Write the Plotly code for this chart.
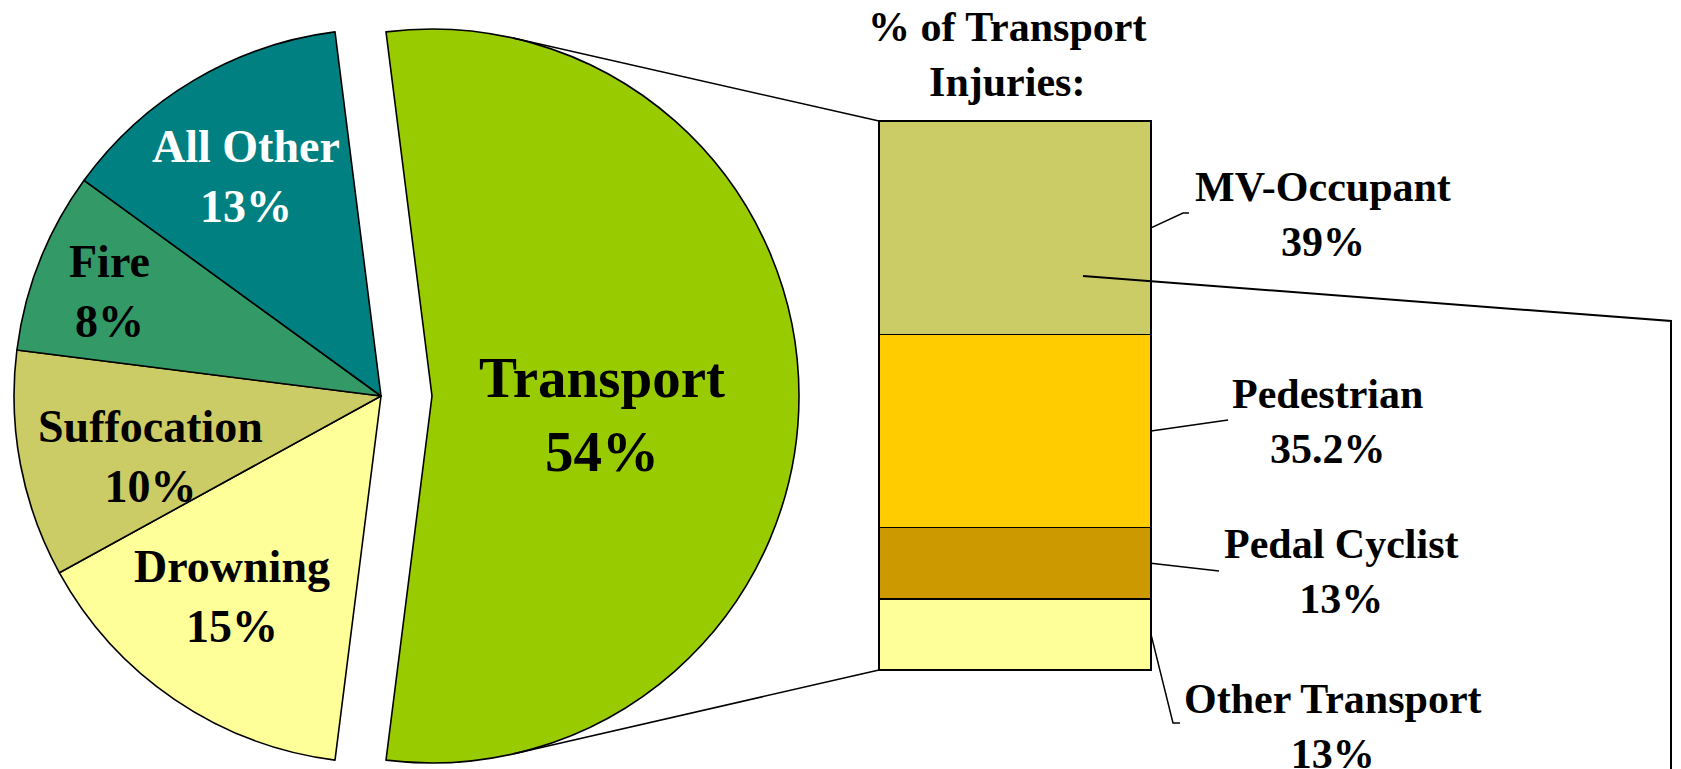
import math
import plotly.graph_objects as go

# share of all injuries (%), listed clockwise starting with the exploded slice
pie_labels = ["Transport", "Drowning", "Suffocation", "Fire", "All Other"]
pie_values = [54, 15, 10, 8, 13]
pie_colors = ["#99CC00", "#FFFF99", "#CCCC66", "#339966", "#008080"]

# breakdown of transport injuries (%), bottom to top of the bar
bar_labels = ["Other Transport", "Pedal Cyclist", "Pedestrian", "MV-Occupant"]
bar_values = [13, 13, 35.2, 39]
bar_colors = ["#FFFF99", "#CC9900", "#FFCC00", "#CCCC66"]

W, H = 1681, 769
OFF = 8          # page margin around the plot div
FONT = "Liberation Serif"

# geometry in page pixels
CX, CY, R = 381, 396, 367          # pie centre / radius
PULL = 51                           # how far Transport is pulled out
BX0, BX1, BY0, BY1 = 879, 1151, 121, 670   # bar box (left, right, top, bottom)
PAD = 6

# label placement in page pixels (centre of text block)
pie_label_xy = [(602, 414), (232, 596), (150, 456), (109, 292), (246, 176)]
pie_label_size = [57, 46, 46, 46, 46]
pie_label_color = ["black", "black", "black", "black", "white"]
bar_label_xy = [(1333, 726), (1341, 571), (1327, 421), (1323, 214)]
leader_ends = [[(1173, 723), (1180, 723)], [(1219, 571)], [(1228, 420)],
               [(1183, 213), (1189, 213)]]


def px(x):
    return (x - OFF) / W


def py(y):
    return 1 - (y - OFF) / H


def path(points):
    return "M " + " L ".join(f"{px(x):.5f},{py(y):.5f}" for x, y in points)


def label(x, y, text, size, color="black"):
    return dict(x=px(x), y=py(y), xref="paper", yref="paper", showarrow=False,
                xanchor="center", yanchor="middle", text=text,
                font=dict(family=FONT, size=size, color=color, weight="bold"))


fig = go.Figure()

total = sum(pie_values)
rot = 90 - pie_values[0] / total * 180   # centre Transport on 3 o'clock
clear = "rgba(0,0,0,0)"
n = len(pie_values)

# pie drawn twice: rest of the slices in place, Transport shifted right
for centre, keep in [(CX, lambda i: i != 0), (CX + PULL, lambda i: i == 0)]:
    fig.add_trace(go.Pie(
        labels=pie_labels, values=pie_values, sort=False,
        direction="clockwise", rotation=rot,
        marker=dict(colors=[c if keep(i) else clear for i, c in enumerate(pie_colors)],
                    line=dict(color=["black" if keep(i) else clear for i in range(n)],
                              width=1.6)),
        textinfo="none", hoverinfo="label+percent", showlegend=False,
        domain=dict(x=[px(centre - R), px(centre + R)], y=[py(CY + R), py(CY - R)]),
    ))

# stacked bar of the transport breakdown
for lab, val, col in zip(bar_labels, bar_values, bar_colors):
    fig.add_trace(go.Bar(
        x=[0], y=[val], width=[1], name=lab, showlegend=False,
        marker=dict(color=col, line=dict(color="black", width=1.6)),
    ))

bar_total = sum(bar_values)
ppu = (BY1 - BY0) / bar_total
xr = 0.5 + PAD / (BX1 - BX0)

annotations = []
for i, (lab, val) in enumerate(zip(pie_labels, pie_values)):
    x, y = pie_label_xy[i]
    annotations.append(label(x, y, f"{lab}<br>{val}%", pie_label_size[i], pie_label_color[i]))

shapes = []
cum = 0
for i, (lab, val) in enumerate(zip(bar_labels, bar_values)):
    x, y = bar_label_xy[i]
    annotations.append(label(x, y, f"{lab}<br>{val:g}%", 42))
    mid = BY1 - (cum + val / 2) * ppu
    cum += val
    shapes.append(dict(type="path", xref="paper", yref="paper",
                       path=path([(BX1, mid)] + leader_ends[i]),
                       line=dict(color="black", width=1.5)))

annotations.append(label(1007, 55, "% of Transport<br>Injuries:", 42))

# series lines: tangents from the bar corners to the Transport arc
tcx = CX + PULL
for corner, sign in [((BX0, BY0), -1), ((BX0, BY1), 1)]:
    dx, dy = corner[0] - tcx, corner[1] - CY
    d = math.hypot(dx, dy)
    a = math.atan2(dy, dx) + sign * math.acos(R / d)
    tp = (tcx + R * math.cos(a), CY + R * math.sin(a))
    shapes.append(dict(type="path", xref="paper", yref="paper",
                       path=path([tp, corner]), line=dict(color="black", width=1.5)))

# stray leader line running off to the right edge
shapes.append(dict(type="path", xref="paper", yref="paper",
                   path=path([(1083, 276), (1671, 321), (1671, 785)]),
                   line=dict(color="black", width=2)))

fig.update_layout(
    width=W, height=H,
    margin=dict(l=0, r=0, t=0, b=0),
    paper_bgcolor="white", plot_bgcolor="rgba(0,0,0,0)",
    barmode="stack",
    xaxis=dict(domain=[px(BX0 - PAD), px(BX1 + PAD)], range=[-xr, xr], visible=False),
    yaxis=dict(domain=[py(BY1 + PAD), py(BY0 - PAD)],
               range=[-PAD / ppu, bar_total + PAD / ppu], visible=False),
    annotations=annotations,
    shapes=shapes,
)

fig.write_html("out.html")
